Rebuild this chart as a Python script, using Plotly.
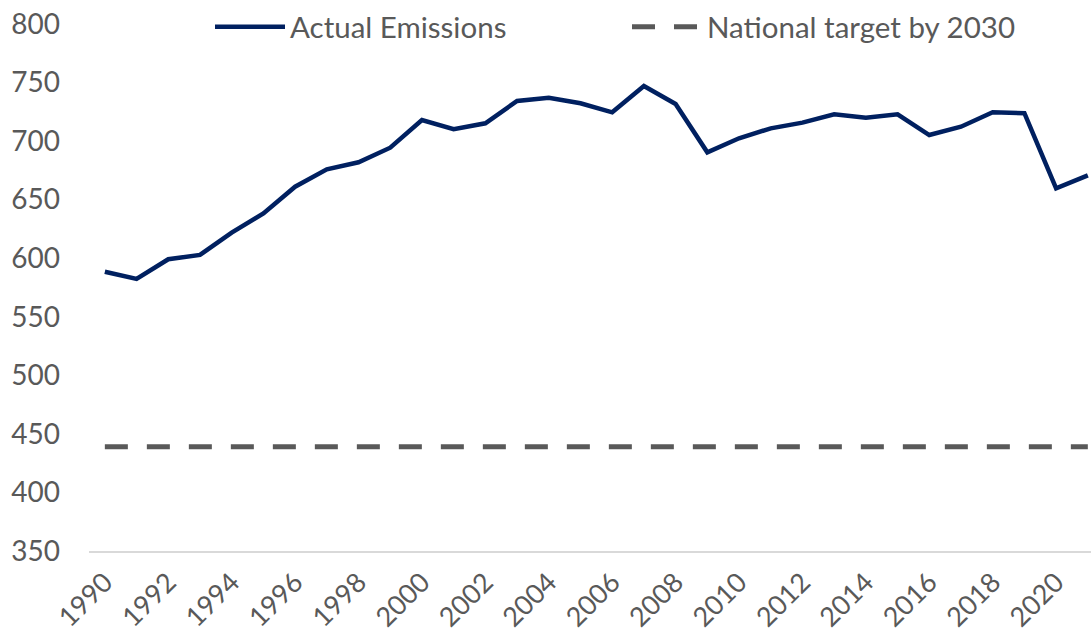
import plotly.graph_objects as go

years = list(range(1990, 2022))
actual_emissions = [588.5, 582.3, 599.1, 602.8, 621.8, 638.3, 661.1, 675.9, 681.9, 694.4,
                    718.0, 710.1, 715.2, 734.3, 737.1, 732.3, 724.6, 747.1, 731.7, 690.4,
                    702.4, 710.9, 715.8, 722.9, 720.0, 722.9, 705.2, 712.3, 724.6, 723.8,
                    659.7, 670.8]
target_value = 439
national_target = [target_value] * len(years)
x_tick_labels = [str(y) for y in range(1990, 2021, 2)]
y_ticks = list(range(350, 801, 50))

FONT = "Lato"
GREY = "#595959"

fig = go.Figure()
fig.add_trace(go.Scatter(
    x=years, y=actual_emissions, mode="lines", name="Actual Emissions",
    line=dict(color="#002060", width=4.5),
))
fig.add_trace(go.Scatter(
    x=years, y=national_target, mode="lines", name="National target by 2030",
    line=dict(color=GREY, width=5, dash="23px,19px"),
))

fig.update_layout(
    width=1091, height=637,
    margin=dict(l=89, r=0, t=24, b=86),
    paper_bgcolor="white", plot_bgcolor="white",
    font=dict(family=FONT, size=28, color=GREY),
    showlegend=True,
    legend=dict(
        orientation="h", x=(210 - 89) / 1002, xanchor="left", y=0.994, yanchor="middle",
        font=dict(family=FONT, size=29.5, color=GREY),
        itemwidth=70, entrywidth=332, entrywidthmode="pixels",
        bgcolor="rgba(0,0,0,0)",
    ),
    xaxis=dict(
        range=[1989.5, 2021.1], automargin=False,
        tickmode="array", tickvals=[int(t) for t in x_tick_labels], ticktext=x_tick_labels,
        tickangle=-45, showgrid=False, zeroline=False,
        showline=True, linecolor="#d9d9d9", linewidth=1.5,
        ticks="", ticklabelstandoff=3,
        tickfont=dict(family=FONT, size=27, color=GREY),
    ),
    yaxis=dict(
        range=[350, 800], tickmode="array", tickvals=y_ticks, automargin=False,
        showgrid=False, zeroline=False, showline=False, ticks="",
        ticklabelstandoff=28,
        tickfont=dict(family=FONT, size=28, color=GREY),
    ),
)

fig.write_html("out.html")
